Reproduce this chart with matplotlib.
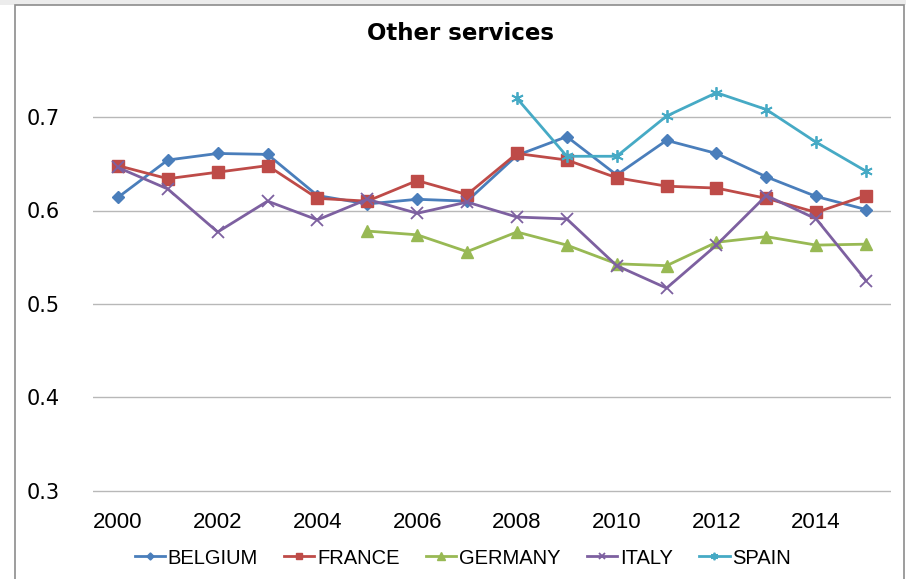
import matplotlib
matplotlib.use("Agg")
import matplotlib.pyplot as plt
from matplotlib.patches import Rectangle
from matplotlib import font_manager as fm

years = list(range(2000, 2016))
belgium = [0.614, 0.654, 0.661, 0.660, 0.616, 0.607, 0.612, 0.610,
           0.659, 0.679, 0.638, 0.675, 0.661, 0.636, 0.615, 0.601]
france = [0.648, 0.634, 0.641, 0.648, 0.613, 0.610, 0.632, 0.617,
          0.661, 0.654, 0.635, 0.626, 0.624, 0.613, 0.598, 0.616]
germany_years = list(range(2005, 2016))
germany = [0.578, 0.574, 0.556, 0.577, 0.563, 0.543, 0.541, 0.566,
           0.572, 0.563, 0.564]
italy = [0.646, 0.623, 0.577, 0.610, 0.590, 0.612, 0.597, 0.609,
         0.593, 0.591, 0.541, 0.517, 0.563, 0.616, 0.591, 0.525]
spain_years = list(range(2008, 2016))
spain = [0.720, 0.658, 0.658, 0.701, 0.726, 0.708, 0.673, 0.642]

yticks = [0.3, 0.4, 0.5, 0.6, 0.7]
xticks = list(range(2000, 2016, 2))
title = "Other services"

names = {f.name for f in fm.fontManager.ttflist}
narrow = "Liberation Sans Narrow" if "Liberation Sans Narrow" in names else "Liberation Sans"

W, H = 906, 579
fig = plt.figure(figsize=(W / 100, H / 100), dpi=100)

# outer frame
fig.patches.append(Rectangle((0, 1 - 5 / H), 1, 5 / H, transform=fig.transFigure,
                             facecolor="#ececec", edgecolor="none", zorder=0))
fig.patches.append(Rectangle((15 / W, -0.05), (904 - 15) / W, 1.05 - 5 / H,
                             transform=fig.transFigure, facecolor="none",
                             edgecolor="#8c8c8c", linewidth=1.2, zorder=1))

ax = fig.add_axes([93 / W, 1 - 494 / H, 798 / W, (494 - 80) / H])
ax.set_xlim(1999.5, 2015.5)
ax.set_ylim(0.3 - 3 / 935, 0.7 + 37 / 935)
for s in ax.spines.values():
    s.set_visible(False)
ax.set_yticks(yticks)
ax.set_xticks(xticks)
ax.yaxis.grid(True, color="#b8b8b8", linewidth=1.0)
ax.set_axisbelow(True)
ax.tick_params(length=0)
ax.tick_params(axis="y", pad=24, labelsize=15)
ax.tick_params(axis="x", pad=13)
for lab in ax.get_yticklabels():
    lab.set_fontfamily("DejaVu Sans")
for lab in ax.get_xticklabels():
    lab.set_fontfamily(narrow)
    lab.set_fontsize(16)

lw = 2.0
ax.plot(years, belgium, color="#4A7EBB", marker="D", markersize=6, lw=lw, label="BELGIUM")
ax.plot(years, france, color="#BE4B48", marker="s", markersize=8, lw=lw, label="FRANCE")
ax.plot(germany_years, germany, color="#98B954", marker="^", markersize=9, lw=lw, label="GERMANY")
ax.plot(years, italy, color="#7D60A0", marker="x", markersize=8, mew=1.3, lw=lw, label="ITALY")
ax.plot(spain_years, spain, color="#46AAC5", marker=(6, 2, 0), markersize=9, mew=1.3, lw=lw, label="SPAIN")

fig.text(460 / W, 1 - 33 / H, title, ha="center", va="center",
         fontsize=16.5, fontweight="bold", family="DejaVu Sans")

leg = fig.legend(loc="center", bbox_to_anchor=(463 / W, 1 - 558 / H), ncol=5,
                 frameon=False, handlelength=1.5, handletextpad=0.15,
                 columnspacing=1.3, markerscale=0.6,
                 prop={"family": narrow, "size": 14.5})

fig.savefig("out.png", dpi=100)
